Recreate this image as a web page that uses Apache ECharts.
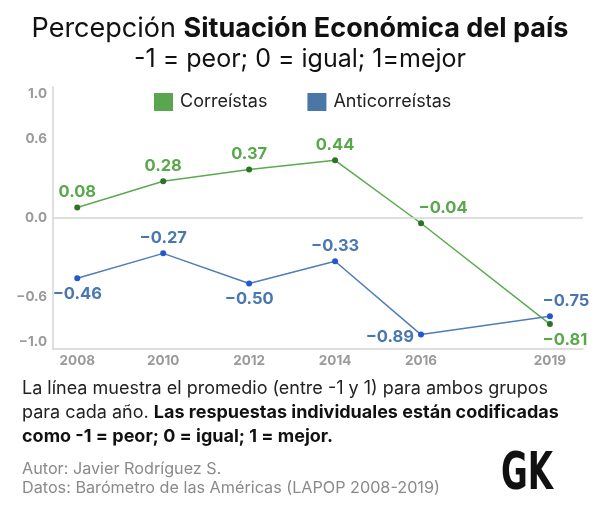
<!DOCTYPE html>
<html><head><meta charset="utf-8">
<script src="https://cdn.jsdelivr.net/npm/echarts@6/dist/echarts.min.js"></script>
<style>html,body{margin:0;padding:0;background:#fff}#c{width:600px;height:510px}</style>
</head><body><div id="c"></div>
<script>
var years = [2008, 2010, 2012, 2014, 2016, 2019];
var correistas = [0.08, 0.28, 0.37, 0.44, -0.04, -0.81];
var anticorreistas = [-0.46, -0.27, -0.50, -0.33, -0.89, -0.75];
var yTicks = [-1, -0.6, 0, 0.6, 1];
var seriesNames = ['Correístas', 'Anticorreístas'];

var corrLabelPos = [['top',[0,0]],['top',[0,0]],['top',[0,0]],['top',[0,0]],['top',[22,0]],['bottom',[15,0]]];
var antiLabelPos = [['bottom',[0,0]],['top',[0,0]],['bottom',[0,0]],['top',[0,0]],['left',[0,2]],['top',[16,0]]];

var FONT = 'Inter, "Noto Sans", sans-serif';
var GREEN = '#5aab4e', GREEN_DK = '#2c7325', GREEN_TXT = '#5aa84c';
var BLUE = '#4f7db7', BLUE_DK = '#2457cf', BLUE_TXT = '#4a78ae';
var GREEN_SQ = '#5aa64e', BLUE_SQ = '#4a77a8';
function fmt(v){ var s = Math.abs(v).toFixed(2); return (v < 0 ? '\u2212' : '') + s; }
function build(vals, pos){
  return vals.map(function(v,i){
    return { value: [years[i], v], label: { position: pos[i][0], offset: pos[i][1] } };
  });
}

var chart = echarts.init(document.getElementById('c'), null, {renderer:'canvas'});
chart.setOption({
  backgroundColor: '#fff',
  animation: false,
  textStyle: { fontFamily: FONT },
  title: {
    left: 'center', top: 10, itemGap: 5,
    text: '{n|Percepción }{b|Situación Económica del país}',
    textStyle: { rich: {
      n: { fontFamily: FONT, fontSize: 27, fontWeight: 400, color: '#111' },
      b: { fontFamily: FONT, fontSize: 27, fontWeight: 700, color: '#111' }
    }},
    subtext: '-1 = peor; 0 = igual; 1=mejor',
    subtextStyle: { fontFamily: FONT, fontSize: 25, fontWeight: 400, color: '#111' }
  },
  legend: {
    top: 88, left: 149, itemGap: 40, itemWidth: 19, itemHeight: 18,
    icon: 'rect',
    textStyle: { fontFamily: FONT, fontSize: 18, color: '#222', padding: [0,0,0,2] },
    data: [
      { name: seriesNames[0], itemStyle: { color: GREEN_SQ } },
      { name: seriesNames[1], itemStyle: { color: BLUE_SQ } }
    ]
  },
  grid: { left: 53, right: 17, top: 87, bottom: 161, containLabel: false },
  xAxis: {
    type: 'value', min: 2007.435, max: 2019.77,
    axisLine: { onZero: false, lineStyle: { color: '#d4d4d4', width: 1.5 } },
    axisTick: { show: false },
    splitLine: { show: false },
    axisLabel: {
      customValues: years, color: '#9a9a9a', fontWeight: 700, fontSize: 13.5, margin: 5,
      fontFamily: FONT, formatter: function(v){ return String(v); }
    }
  },
  yAxis: {
    type: 'value', min: -1, max: 1,
    axisLine: { show: true, lineStyle: { color: '#d4d4d4', width: 1.5 } },
    axisTick: { show: false },
    splitLine: { show: false },
    axisLabel: {
      customValues: yTicks, color: '#9a9a9a', fontWeight: 700, fontSize: 13.5, margin: 6,
      fontFamily: FONT, verticalAlignMaxLabel: 'top', verticalAlignMinLabel: 'bottom',
      formatter: function(v){ return (v < 0 ? '\u2212' : '') + Math.abs(v).toFixed(1); }
    }
  },
  series: [
    {
      name: seriesNames[0], type: 'line', data: build(correistas, corrLabelPos),
      color: GREEN,
      lineStyle: { color: GREEN, width: 1.5 },
      itemStyle: { color: GREEN_DK },
      symbol: 'circle', symbolSize: 6, z: 3,
      label: { show: true, color: GREEN_TXT, fontWeight: 700, fontSize: 16.5, fontFamily: FONT,
        distance: 4, formatter: function(p){ return fmt(p.value[1]); } },
      markLine: {
        silent: true, symbol: 'none', label: { show: false },
        lineStyle: { color: '#d4d4d4', width: 1.5, type: 'solid' },
        data: [{ yAxis: 0 }]
      }
    },
    {
      name: seriesNames[1], type: 'line', data: build(anticorreistas, antiLabelPos),
      color: BLUE,
      lineStyle: { color: BLUE, width: 1.5 },
      itemStyle: { color: BLUE_DK },
      symbol: 'circle', symbolSize: 6, z: 3,
      label: { show: true, color: BLUE_TXT, fontWeight: 700, fontSize: 16.5, fontFamily: FONT,
        distance: 4, formatter: function(p){ return fmt(p.value[1]); } }
    }
  ],
  graphic: [
    {
      type: 'text', left: 22, top: 380,
      style: {
        text: '{n|La línea muestra el promedio (entre -1 y 1) para ambos grupos}\n{n|para cada año. }{b|Las respuestas individuales están codificadas}\n{b|como -1 = peor; 0 = igual; 1 = mejor.}',
        rich: {
          n: { fontFamily: FONT, fontSize: 18, fontWeight: 400, fill: '#222', lineHeight: 24 },
          b: { fontFamily: FONT, fontSize: 18, fontWeight: 700, fill: '#111', lineHeight: 24 }
        }
      }
    },
    {
      type: 'text', left: 22, top: 460,
      style: {
        text: 'Autor: Javier Rodríguez S.\nDatos: Barómetro de las Américas (LAPOP 2008-2019)',
        fontFamily: FONT, fontSize: 16.2, fontWeight: 400, fill: '#8a8a8a', lineHeight: 18.5
      }
    },
    {
      type: 'text', x: 501, y: 476, scaleX: 0.64, originX: 0,
      style: {
        text: 'GK', fontFamily: '"DejaVu Sans", sans-serif',
        fontSize: 51, fontWeight: 900, fill: '#111', verticalAlign: 'middle', align: 'left'
      }
    }
  ]
});
</script></body></html>
